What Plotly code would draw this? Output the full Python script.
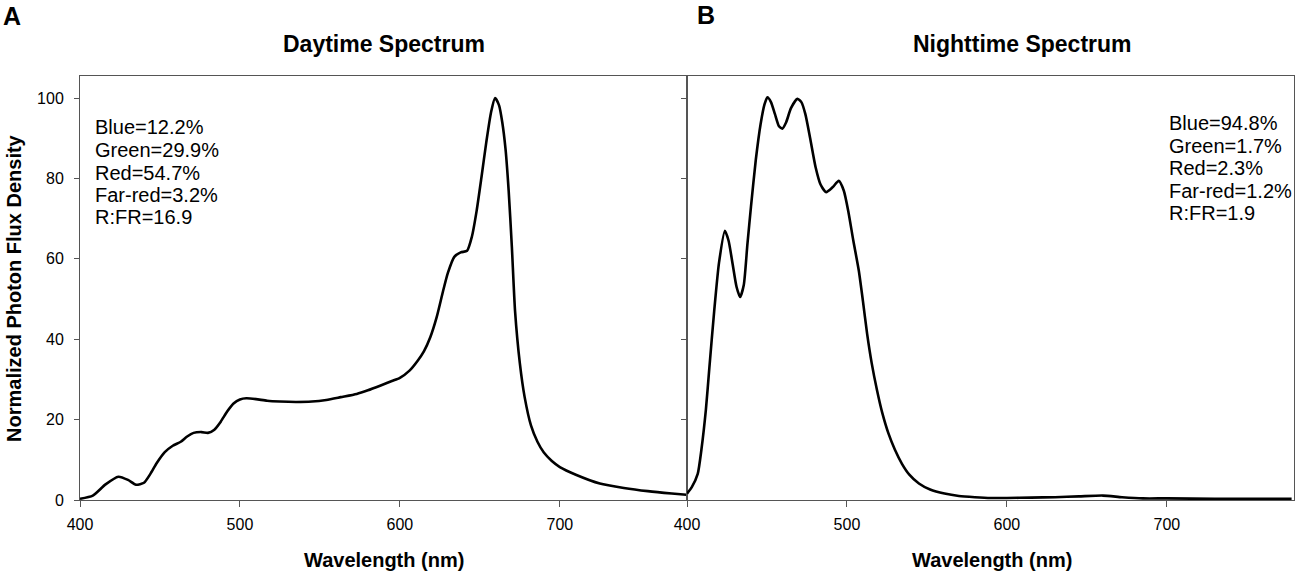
import plotly.graph_objects as go

# daytime spectrum (normalized photon flux density)
day_nm = [400, 408, 416, 424, 430, 435, 440, 444, 448, 453, 458, 463, 467, 471, 476, 480,
          484, 488, 492, 496, 500, 504, 510, 517, 525, 535, 545, 554, 563, 573, 580, 588,
          595, 600, 606, 611, 615, 619, 623, 627, 630, 634, 638, 642, 645, 648, 651, 654,
          657, 659.5, 662, 664, 666, 668, 670, 672, 675, 678, 682, 686, 690, 695, 700, 710,
          725, 740, 755, 770, 779]
day_val = [0.3, 1.1, 3.9, 5.8, 5.0, 3.8, 4.3, 6.5, 9.2, 11.9, 13.5, 14.5, 15.8, 16.7, 16.9, 16.7,
           17.5, 19.5, 22.0, 24.0, 25.0, 25.3, 25.1, 24.7, 24.5, 24.4, 24.5, 24.9, 25.6, 26.4, 27.3, 28.5,
           29.6, 30.4, 32.2, 34.6, 37.0, 40.5, 45.5, 52.0, 56.5, 60.5, 61.6, 62.0, 65.5, 72.0, 80.3, 89.0,
           96.5, 100.0, 98.2, 94.0, 87.5, 77.0, 63.0, 47.0, 34.0, 25.6, 18.5, 14.5, 11.8, 9.7, 8.2, 6.3,
           4.1, 3.0, 2.2, 1.6, 1.3]

# nighttime spectrum
night_nm = [400, 403, 406.7, 409, 411.8, 414, 417, 420, 423.7, 426, 428.5, 431, 433.2, 435.5, 437.8,
            440, 443, 446, 448.5, 450.3, 452.5, 455, 457.5, 459.6, 462, 465, 469, 471.5, 474, 477,
            480.4, 483.5, 487, 491, 494.9, 498, 501, 504, 507.4, 510, 512.6, 515.5, 518.8, 522, 526,
            530, 534.4, 539, 545, 552, 561, 570, 580, 590, 600, 615, 630, 645, 660, 672, 685, 700,
            730, 760, 778]
night_val = [1.6, 3.2, 6.5, 12.5, 22.4, 33, 47, 59, 67, 64.5, 58.8, 53, 50.5, 53.5, 63.8,
             73, 84.6, 93.5, 98.5, 100.2, 99, 96, 93, 92.4, 94, 97.5, 99.8, 99, 96, 90,
             82.8, 78.5, 76.6, 77.8, 79.4, 77, 71.5, 64.5, 57.1, 49.5, 41.4, 34, 27.3, 21.8, 16.5,
             12.5, 9.0, 6.3, 4.1, 2.6, 1.6, 1.0, 0.7, 0.5, 0.5, 0.6, 0.7, 0.9, 1.1, 0.7, 0.4, 0.4,
             0.3, 0.3, 0.3]

day_stats = ["Blue=12.2%", "Green=29.9%", "Red=54.7%", "Far-red=3.2%", "R:FR=16.9"]
night_stats = ["Blue=94.8%", "Green=1.7%", "Red=2.3%", "Far-red=1.2%", "R:FR=1.9"]
x_ticks = [400, 500, 600, 700]
y_ticks = [0, 20, 40, 60, 80, 100]

FONT = "Liberation Sans, Arial, sans-serif"
AXC = "#555555"

fig = go.Figure()
fig.add_trace(go.Scatter(x=day_nm, y=day_val, mode="lines", xaxis="x", yaxis="y",
                         line=dict(color="black", width=2.6, shape="spline", smoothing=0.6)))
fig.add_trace(go.Scatter(x=night_nm, y=night_val, mode="lines", xaxis="x2", yaxis="y2",
                         line=dict(color="black", width=2.6, shape="spline", smoothing=0.6)))

xax = dict(range=[400, 779.5], tickvals=x_ticks, ticks="outside", ticklen=6, tickcolor=AXC,
           showline=True, linecolor=AXC, linewidth=1, mirror=True, showgrid=False, zeroline=False,
           tickfont=dict(size=16, color="black"), ticklabelstandoff=4)
yax = dict(range=[0, 105.5], tickvals=y_ticks, ticks="outside", ticklen=5, tickcolor=AXC,
           showline=True, linecolor=AXC, linewidth=1, mirror=True, showgrid=False, zeroline=False,
           tickfont=dict(size=16, color="black"), ticklabelstandoff=7)

fig.update_layout(
    width=1299, height=575,
    margin=dict(l=80, r=5, t=76, b=75),
    paper_bgcolor="white", plot_bgcolor="white",
    showlegend=False,
    font=dict(family=FONT, color="black"),
    xaxis=dict(xax, domain=[0, 0.5], anchor="y"),
    yaxis=dict(yax, anchor="x"),
    xaxis2=dict(xax, domain=[0.5, 1], anchor="y2"),
    yaxis2=dict(yax, anchor="x2", showticklabels=False),
)

anns = [
    dict(text="<b>A</b>", x=-0.056, y=1.1415, font=dict(size=25)),
    dict(text="<b>B</b>", x=0.5157, y=1.1439, font=dict(size=25)),
    dict(text="<b>Daytime Spectrum</b>", x=0.2504, y=1.0755, font=dict(size=23)),
    dict(text="<b>Nighttime Spectrum</b>", x=0.776, y=1.0755, font=dict(size=23)),
    dict(text="<b>Wavelength (nm)</b>", x=0.25, y=-0.1415, font=dict(size=20)),
    dict(text="<b>Wavelength (nm)</b>", x=0.7512, y=-0.1415, font=dict(size=20)),
    dict(text="<b>Normalized Photon Flux Density</b>", x=-0.0544, y=0.5, textangle=-90,
         font=dict(size=20)),
]
day_y = [0.8804, 0.8255, 0.7719, 0.7193, 0.6682]
night_y = [0.8884, 0.8349, 0.7823, 0.7288, 0.6762]
for s, yy in zip(day_stats, day_y):
    anns.append(dict(text=s, x=0.0105, y=yy, xanchor="left", font=dict(size=20)))
for s, yy in zip(night_stats, night_y):
    anns.append(dict(text=s, x=0.8952, y=yy, xanchor="left", font=dict(size=20)))

for a in anns:
    a.setdefault("xanchor", "center")
    fig.add_annotation(xref="paper", yref="paper", showarrow=False, yanchor="middle",
                       font_family=FONT, font_color="black", **a)

# drop the default 8px body margin so the figure sits at the window corner
fig.write_html("out.html", config={"displayModeBar": False},
               post_script="document.body.style.margin='0';")
